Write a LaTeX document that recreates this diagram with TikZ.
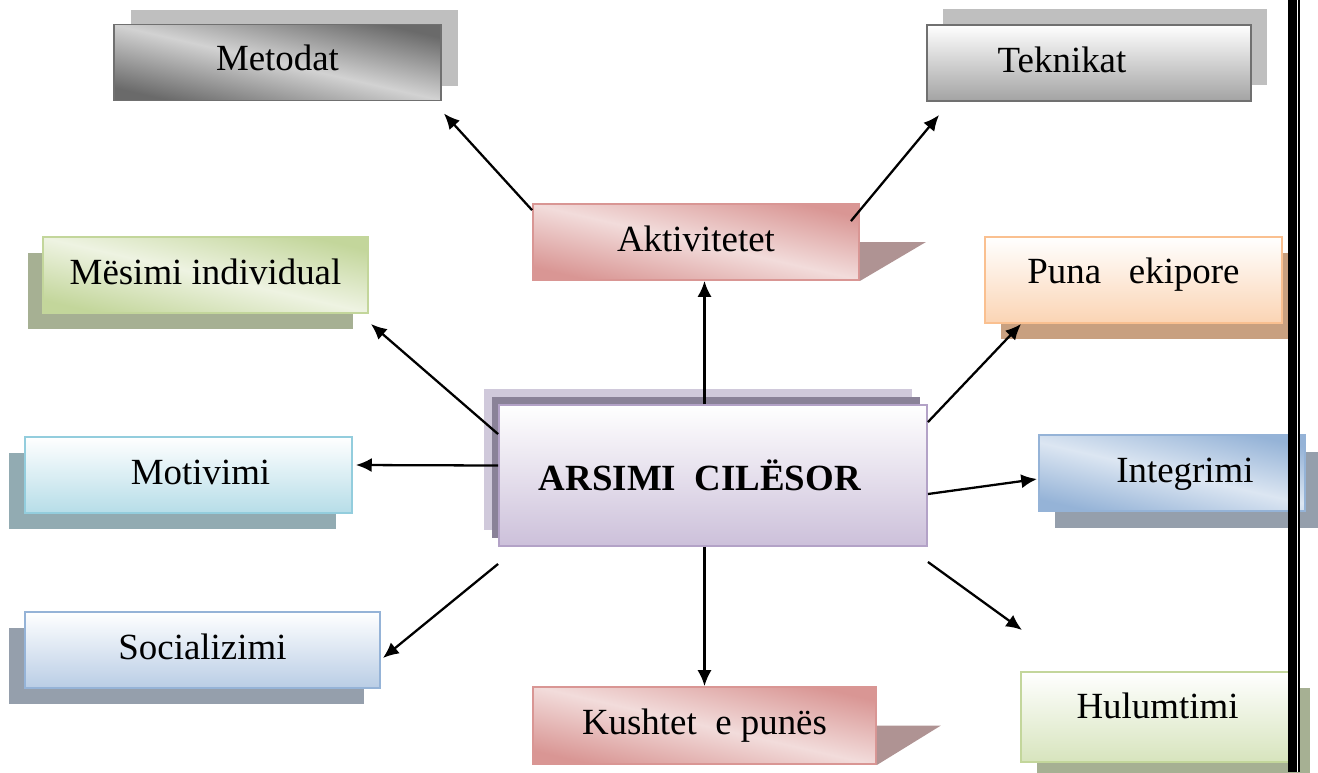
\documentclass[tikz,border=0pt]{standalone}
\usepackage{fontspec}
\setmainfont{Liberation Serif}
\usetikzlibrary{arrows.meta, calc, shadows}
\definecolor{metdark}{HTML}{6A6A6A}
\definecolor{metlight}{HTML}{D2D2D2}
\definecolor{greyline}{HTML}{707070}
\definecolor{greyshade}{HTML}{BFBFBF}
\definecolor{tekbottom}{HTML}{A3A3A3}
\definecolor{rosedark}{HTML}{D99694}
\definecolor{roselight}{HTML}{F2DCDB}
\definecolor{roseshade}{HTML}{AF9393}
\definecolor{olivedark}{HTML}{C3D69B}
\definecolor{olivelight}{HTML}{EEF3E2}
\definecolor{olivebottom}{HTML}{D7E4BD}
\definecolor{oliveshade}{HTML}{A6B093}
\definecolor{peachline}{HTML}{FAC090}
\definecolor{peachbottom}{HTML}{FBD4B4}
\definecolor{peachshade}{HTML}{C8A080}
\definecolor{lilacline}{HTML}{B3A2C7}
\definecolor{lilacbottom}{HTML}{CCC0DA}
\definecolor{lilacshade}{HTML}{D0C9DB}
\definecolor{lilacdeep}{HTML}{8A8298}
\definecolor{aqualine}{HTML}{93CDDD}
\definecolor{aquabottom}{HTML}{B6DDE8}
\definecolor{aquashade}{HTML}{92ABB2}
\definecolor{steeldark}{HTML}{95B3D7}
\definecolor{steellight}{HTML}{DCE6F2}
\definecolor{steelbottom}{HTML}{B9CDE5}
\definecolor{steelshade}{HTML}{959FAC}

\begin{document}
\begin{tikzpicture}[
    x=0.02cm, y=-0.02cm,
    box/.style={draw, line width=1.1pt, inner sep=0pt, minimum height=1.52cm, font=\fontsize{21}{25}\selectfont},
    metbox/.style={box, draw=greyline, left color=metdark, right color=metdark, middle color=metlight, shading angle=-13,
      general shadow={fill=greyshade, shadow xshift=0.34cm, shadow yshift=0.3cm}},
    tekbox/.style={box, draw=greyline, top color=white, bottom color=tekbottom,
      general shadow={fill=greyshade, shadow xshift=0.32cm, shadow yshift=0.32cm}},
    rosebox/.style={box, draw=rosedark, left color=rosedark, right color=rosedark, middle color=roselight, shading angle=-13},
    mesbox/.style={box, draw=olivedark, left color=olivedark, right color=olivedark, middle color=olivelight, shading angle=-13,
      general shadow={fill=oliveshade, shadow xshift=-0.3cm, shadow yshift=-0.32cm}},
    punbox/.style={box, draw=peachline, top color=white, bottom color=peachbottom,
      general shadow={fill=peachshade, shadow xshift=0.32cm, shadow yshift=-0.32cm}},
    cenbox/.style={box, draw=lilacline, top color=white, bottom color=lilacbottom,
      general shadow={fill=lilacshade, shadow xshift=-0.3cm, shadow yshift=0.32cm},
      general shadow={fill=lilacdeep, shadow xshift=-0.14cm, shadow yshift=0.16cm}},
    motbox/.style={box, draw=aqualine, top color=white, bottom color=aquabottom,
      general shadow={fill=aquashade, shadow xshift=-0.32cm, shadow yshift=-0.32cm}},
    intbox/.style={box, draw=steeldark, left color=steeldark, right color=steeldark, middle color=steellight, shading angle=-13,
      general shadow={fill=steelshade, shadow xshift=0.32cm, shadow yshift=-0.34cm}},
    socbox/.style={box, draw=steeldark, top color=white, bottom color=steelbottom,
      general shadow={fill=steelshade, shadow xshift=-0.32cm, shadow yshift=-0.32cm}},
    hulbox/.style={box, draw=olivedark, top color=white, bottom color=olivebottom,
      general shadow={fill=oliveshade, shadow xshift=0.32cm, shadow yshift=-0.32cm}},
    arr/.style={-{Latex[length=9pt,width=8pt]}, line width=1.3pt}
  ]
    \useasboundingbox (0,0) rectangle (1318,772);

    % Boxes
    \node[metbox, minimum width=6.54cm, text depth=0.18cm] (met) at (277.5,62.5) {Metodat};
    \node[tekbox, minimum width=6.48cm, text depth=0.14cm] (tek) at (1089,63) {Teknikat\hspace*{1.08cm}};
    \node[rosebox, minimum width=6.52cm, text depth=0.14cm] (akt) at (696,242) {Aktivitetet};
    \node[mesbox, minimum width=6.5cm, text depth=0.12cm] (mes) at (205.5,275) {Mësimi individual};
    \node[punbox, minimum width=5.94cm, minimum height=1.72cm, text depth=0.36cm] (pun) at (1133.5,280) {Puna\ \ \ ekipore};
    \node[cenbox, minimum width=8.56cm, minimum height=2.82cm] (cen) at (713,475.5) {\textbf{ARSIMI\ \ CILËSOR}\hspace*{0.52cm}};
    \node[motbox, minimum width=6.54cm, text depth=0.12cm] (mot) at (188.5,475) {\hspace*{0.48cm}Motivimi};
    \node[intbox, minimum width=5.32cm, text depth=0.12cm] (int) at (1172,473) {\hspace*{0.52cm}Integrimi};
    \node[socbox, minimum width=7.1cm, text depth=0.12cm] (soc) at (202.5,650) {Socializimi};
    \node[rosebox, minimum width=6.86cm, minimum height=1.54cm] (kus) at (704.5,725.5) {Kushtet\ \ e punës};
    \node[hulbox, minimum width=5.46cm, minimum height=1.8cm, text depth=0.44cm] (hul) at (1157.5,717) {Hulumtimi};

    % Flag tails
    \fill[roseshade] (akt.east) -- ++(66,0) -- (akt.south east) -- cycle;
    \fill[roseshade] (kus.east) -- ++(64,0) -- (kus.south east) -- cycle;

    % Arrows
    \coordinate (hulend) at (1022,630);
    \draw[arr] (akt.169) -- ($(met.south east)+(2,12)$);
    \draw[arr] ($(akt.north east)+(-9,18)$) -- ($(tek.south west)+(13,13)$);
    \draw[arr] (cen.north -| kus.north) -- (akt.south -| kus.north);
    \draw[arr] ($(cen.north west)+(0,30)$) -- ($(mes.south east)+(2,10)$);
    \draw[arr] ($(cen.north east)+(0,18)$) -- ($(pun.south west)+(37,0)$);
    \draw[arr] ($(cen.west)+(0,-10)$) -- ($(mot.east)+(3,-10)$);
    \draw[arr] ($(cen.east)+(0,18.5)$) -- ($(int.west)+(-1,6)$);
    \draw[arr] ($(cen.south west)+(0,17)$) -- ($(soc.east)+(2,8)$);
    \draw[arr] (cen.south -| kus.north) -- (kus.north);
    \draw[arr] ($(cen.south east)+(0,15)$) -- (hulend);

    % Page border
    \fill[black] (1288,0) rectangle (1297,772);
    \fill[white] (1297,0) rectangle (1298,772);
    \fill[black] (1298,0) rectangle (1300,772);
  \end{tikzpicture}
\end{document}
